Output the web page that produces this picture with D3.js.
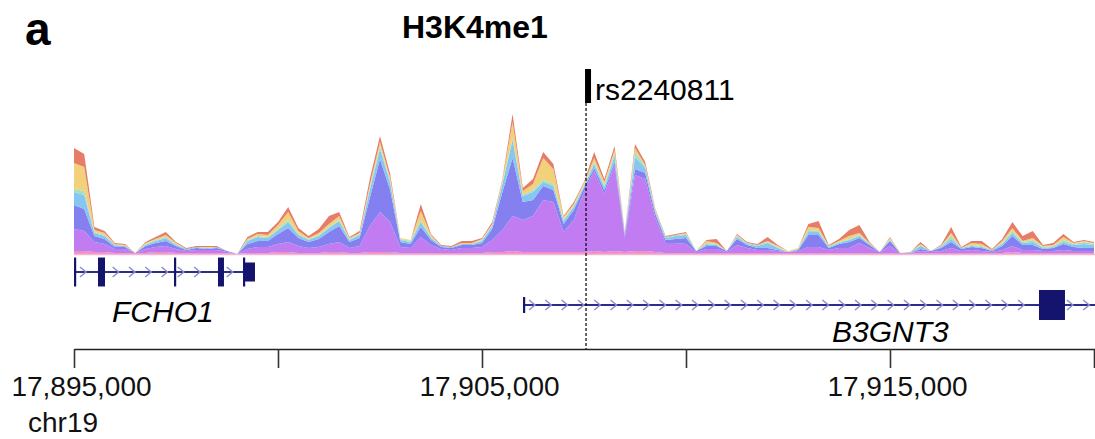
<!DOCTYPE html>
<html>
<head>
<meta charset="utf-8">
<script src="https://cdn.jsdelivr.net/npm/d3@7"></script>
<style>
  body { margin: 0; background: #fff; }
  svg { display: block; font-family: "Liberation Sans", Arial, Helvetica, sans-serif; }
</style>
</head>
<body>
<div id="chart"></div>
<script>
// region shown, chr19
var regionStart = 17895000, regionEnd = 17920025;
var binSize = 250;   // signal bins, bp
var snpPos = 17907550, snpName = "rs2240811";
var tickValues = [17895000, 17900000, 17905000, 17910000, 17915000, 17920000];

// stacked H3K4me1 signal, one array per layer (bottom -> top), bin i starts at regionStart + i*250
var pink   = [3,3,2,2,1,1,1,1,2,2,1,1,1,1,1,1,0,1,1,1,2,2,1,1,1,2,2,1,1,2,2,2,1,1,1,1,1,1,1,1,1,2,2,3,2,2,2,2,2,2,2,3,2,3,2,3,3,2,1,1,1,1,1,1,1,1,1,1,1,1,1,1,1,1,1,1,1,1,1,1,1,1,1,1,1,1,1,1,1,1,1,1,2,1,1,1,1,1,1,1,1];
var orchid = [22,20,10,8,4,4,0,4,5,6,4,2,3,3,3,1,0,4,6,6,8,10,7,5,6,8,10,5,7,26,40,30,6,5,16,8,4,3,5,5,6,12,22,35,32,36,52,50,20,32,60,80,58,86,14,76,72,34,10,10,9,1,4,4,1,8,5,3,3,2,1,2,6,6,3,5,5,10,5,1,7,0,0,2,1,2,5,2,3,2,1,3,6,3,3,2,2,3,2,2,2];
var violet = [24,22,6,5,2,2,0,3,4,5,3,1,2,1,2,1,0,5,6,6,10,14,8,6,8,12,16,6,8,28,53,32,5,4,10,5,2,2,3,3,4,11,38,58,18,16,14,12,8,10,4,3,4,3,3,6,6,4,3,4,6,1,3,3,1,6,3,2,2,1,0,1,12,12,2,4,6,5,3,0,5,0,0,2,1,3,6,2,3,3,1,4,10,5,5,2,3,6,4,3,3];
var sky    = [13,14,3,3,2,1,0,1,2,3,1,1,1,1,1,0,0,3,4,3,4,6,3,2,3,4,5,2,3,8,10,7,2,2,5,2,1,1,1,1,2,3,8,18,6,8,4,4,3,3,2,4,3,6,1,12,5,2,2,3,3,0,2,1,0,2,1,2,5,2,0,1,3,3,1,1,2,2,1,0,1,0,1,3,0,1,3,1,1,1,1,2,3,2,3,1,1,2,2,4,3];
var mint   = [3,4,1,1,0,0,0,1,1,1,1,0,0,0,0,0,0,1,1,1,1,2,1,1,1,1,1,1,1,2,3,2,1,1,2,1,0,0,0,0,1,1,1,2,1,2,2,2,2,1,1,2,2,3,1,5,2,1,1,1,1,0,1,1,0,1,1,1,1,1,0,0,2,1,1,1,1,1,0,0,1,0,0,1,0,1,3,0,1,1,0,1,2,1,2,1,1,2,1,2,1];
var yellow = [26,24,2,2,1,1,0,1,1,2,1,0,0,1,0,0,0,1,2,2,4,8,3,1,2,3,4,1,1,3,4,3,1,1,9,2,0,0,1,1,1,1,3,16,4,6,22,15,2,2,2,4,3,3,0,4,1,1,0,0,1,0,2,1,0,1,0,0,1,1,1,1,3,3,0,1,3,2,1,0,1,0,0,1,0,0,3,0,2,2,0,2,3,1,2,1,1,3,1,1,1];
var red    = [15,13,3,2,1,1,0,1,2,3,1,1,1,1,1,0,0,2,2,3,3,5,3,2,4,8,4,1,2,6,6,4,0,0,7,1,1,1,2,2,1,2,1,8,3,5,6,5,1,2,1,6,3,4,1,4,3,1,1,1,1,0,1,4,0,1,1,1,4,1,0,0,3,7,1,2,6,8,1,0,1,0,0,2,0,1,6,1,2,3,1,2,6,5,7,1,2,3,1,1,1];

var layerKeys = ["pink", "orchid", "violet", "sky", "mint", "yellow", "red"];
var layerColors = ["#f090c0", "#c27cf2", "#8580ef", "#86c6f0", "#9fe0c8", "#f1d27a", "#e67d68"];

// genes: [start, end] of the line, exons [start, end, kind]
var geneNames = ["FCHO1", "B3GNT3"];
var geneSpans = [[17895000, 17899436], [17906005, 17921000]];
var geneExons = [
  [[17895000, 17895049, "cds"], [17895588, 17895760, "cds"], [17897451, 17897500, "cds"],
   [17898529, 17898676, "cds"], [17899142, 17899191, "cds"], [17899191, 17899436, "utr"]],
  [[17906005, 17906054, "utr"], [17918652, 17919289, "cds"]]
];

var W = 1095, H = 439;
var svg = d3.select("#chart").append("svg").attr("width", W).attr("height", H);

var x = d3.scaleLinear().domain([regionStart, regionEnd]).range([74, 1095]);
var y = d3.scaleLinear().domain([0, 145]).range([254, 109]);

// panel letter + title
svg.append("text").attr("x", 25).attr("y", 45)
  .attr("font-size", 46).attr("font-weight", "bold").text("a");
svg.append("text").attr("x", 402).attr("y", 38)
  .attr("font-size", 32).attr("font-weight", "bold").text("H3K4me1");

// signal track
var rows = pink.map(function(d, i) {
  return { pos: regionStart + i * binSize, pink: pink[i], orchid: orchid[i], violet: violet[i],
           sky: sky[i], mint: mint[i], yellow: yellow[i], red: red[i] };
});
var series = d3.stack().keys(layerKeys)(rows);
var area = d3.area()
  .x(function(d) { return x(d.data.pos); })
  .y0(function(d) { return y(d[0]); })
  .y1(function(d) { return y(d[1]); });

var track = svg.append("g");
track.append("clipPath").attr("id", "clip").append("rect")
  .attr("x", 74).attr("y", 0).attr("width", W - 74).attr("height", 260);
track.selectAll("path.layer")
  .data(series)
  .enter().append("path")
  .attr("class", "layer")
  .attr("clip-path", "url(#clip)")
  .attr("fill", function(d, i) { return layerColors[i]; })
  .attr("d", area);
track.append("line")
  .attr("x1", 74).attr("x2", W).attr("y1", y(0) + 0.5).attr("y2", y(0) + 0.5)
  .attr("stroke", "#f2b6d8").attr("stroke-width", 1.5);

// gene models
var geneY = [272, 305];
var lineColor = "#2c2c8a", exonColor = "#14146e", chevColor = "#8f8fc8";
var geneLabelX = [112, 832], geneLabelY = [322, 342];

geneNames.forEach(function(name, g) {
  var gy = geneY[g];
  var gg = svg.append("g");
  var x0 = Math.max(x(geneSpans[g][0]), 74), x1 = Math.min(x(geneSpans[g][1]), W);
  gg.append("line").attr("x1", x0).attr("x2", x1).attr("y1", gy).attr("y2", gy)
    .attr("stroke", lineColor).attr("stroke-width", 2);
  // direction chevrons on the introns
  var ex = geneExons[g];
  for (var cx = x0 + 10; cx < x1 - 4; cx += 16.3) {
    var hit = ex.some(function(e) { return cx > x(e[0]) - 7 && cx < x(e[1]) + 5; });
    if (hit) continue;
    gg.append("path")
      .attr("d", "M" + (cx - 4) + "," + (gy - 5) + "L" + (cx + 2) + "," + gy + "L" + (cx - 4) + "," + (gy + 5))
      .attr("fill", "none").attr("stroke", chevColor).attr("stroke-width", 1.5);
  }
  gg.selectAll("rect")
    .data(ex)
    .enter().append("rect")
    .attr("x", function(e) { return x(e[0]); })
    .attr("width", function(e) { return Math.max(x(e[1]) - x(e[0]), 2.2); })
    .attr("y", function(e) { return gy - (e[2] == "cds" ? (g == 0 ? 14.5 : 15) : (g == 0 ? 9.5 : 8)); })
    .attr("height", function(e) { return e[2] == "cds" ? (g == 0 ? 29 : 30) : (g == 0 ? 19 : 16); })
    .attr("fill", exonColor);
  gg.append("text").attr("x", geneLabelX[g]).attr("y", geneLabelY[g])
    .attr("font-size", 30).attr("font-style", "italic").text(name);
});

// coordinate axis
var axis = d3.axisBottom(x)
  .tickValues(tickValues)
  .tickSize(19)
  .tickSizeOuter(0)
  .tickPadding(10)
  .tickFormat(function(d) { return d % 10000 == 5000 ? d3.format(",")(d) : ""; });
var ax = svg.append("g").attr("transform", "translate(0,349)").call(axis);
ax.select(".domain").attr("stroke", "#222").attr("stroke-width", 1.6);
ax.selectAll(".tick line").attr("stroke", "#333").attr("stroke-width", 1.6);
ax.selectAll(".tick text")
  .attr("font-size", 28).attr("font-family", "Liberation Sans, Arial, sans-serif")
  .attr("fill", "#111").attr("dx", 7).attr("dy", "0.71em").attr("y", 27);
svg.append("text").attr("x", 28).attr("y", 432).attr("font-size", 28).attr("fill", "#111").text("chr19");

// SNP marker
svg.append("line")
  .attr("x1", x(snpPos)).attr("x2", x(snpPos)).attr("y1", 103).attr("y2", 349)
  .attr("stroke", "#000").attr("stroke-width", 1.2).attr("stroke-dasharray", "3,2");
svg.append("rect").attr("x", x(snpPos) - 1).attr("y", 69).attr("width", 6).attr("height", 34).attr("fill", "#000");
svg.append("text").attr("x", x(snpPos) + 9).attr("y", 100).attr("font-size", 30).text(snpName);
</script>
</body>
</html>
